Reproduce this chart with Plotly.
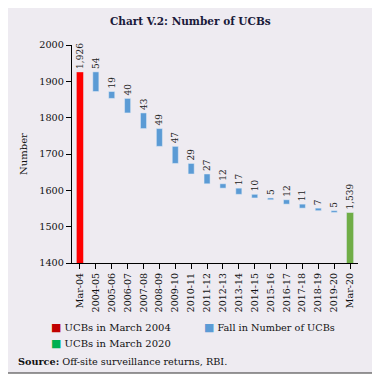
import plotly.graph_objects as go

categories = ["Mar-04", "2004-05", "2005-06", "2006-07", "2007-08", "2008-09", "2009-10",
              "2010-11", "2011-12", "2012-13", "2013-14", "2014-15", "2015-16", "2016-17",
              "2017-18", "2018-19", "2019-20", "Mar-20"]
start_value = 1926
end_value = 1539
falls = [54, 19, 40, 43, 49, 47, 29, 27, 12, 17, 10, 5, 12, 11, 7, 5]

FONT = "DejaVu Serif"
OFF = 8  # browser body margin
W, H = 380 - OFF, 381 - OFF
AX_L, AX_R, AX_T, AX_B = 72, 358, 45, 263
ML, MR, MT, MB = AX_L - OFF, W - (AX_R - OFF), AX_T - OFF, H - (AX_B - OFF)

levels = []
cur = start_value
for f in falls:
    cur -= f
    levels.append(cur)

lbl_font = dict(family=FONT, size=9, color="#222")
fig = go.Figure()
fig.add_trace(go.Bar(
    x=[categories[0]], y=[start_value], marker_color="#ff0000", width=0.45,
    text=[f"{start_value:,}"], textposition="outside", textangle=-90, constraintext="none",
    textfont=lbl_font, cliponaxis=False, name="UCBs in March 2004"))
fig.add_trace(go.Bar(
    x=categories[1:-1], y=falls, base=levels, marker_color="#5b9bd5", width=0.38,
    text=[str(f) for f in falls], textposition="outside", textangle=-90, constraintext="none",
    textfont=lbl_font, cliponaxis=False, name="Fall in Number of UCBs"))
fig.add_trace(go.Bar(
    x=[categories[-1]], y=[end_value], marker_color="#70ad47", width=0.45,
    text=[f"{end_value:,}"], textposition="outside", textangle=-90, constraintext="none",
    textfont=lbl_font, cliponaxis=False, name="UCBs in March 2020"))

pw = AX_R - AX_L
ph = AX_B - AX_T
def px_x(p):
    return (p - AX_L) / pw
def px_y(p):
    return (AX_B - p) / ph

shapes = [dict(type="rect", xref="paper", yref="paper",
               x0=px_x(5.5), x1=px_x(375), y0=px_y(373), y1=px_y(5.5),
               fillcolor="#eeebf1", line=dict(color="#333", width=1.2), layer="below")]

def sq(c):
    return f'<span style="color:{c};font-size:11px">■</span>'

annotations = [
    dict(text="<b>Chart V.2: Number of UCBs</b>", xref="paper", yref="paper",
         x=px_x(190), y=px_y(21), showarrow=False, font=dict(family=FONT, size=10.5, color="#1a1a3a"),
         xanchor="center", yanchor="middle"),
    dict(text=sq("#c00000") + " UCBs in March 2004", xref="paper", yref="paper",
         x=px_x(49), y=px_y(327), showarrow=False, font=dict(family=FONT, size=10, color="#111"),
         xanchor="left", yanchor="middle"),
    dict(text=sq("#5b9bd5") + " Fall in Number of UCBs", xref="paper", yref="paper",
         x=px_x(202), y=px_y(327), showarrow=False, font=dict(family=FONT, size=9.7, color="#111"),
         xanchor="left", yanchor="middle"),
    dict(text=sq("#00b050") + " UCBs in March 2020", xref="paper", yref="paper",
         x=px_x(49), y=px_y(343), showarrow=False, font=dict(family=FONT, size=10, color="#111"),
         xanchor="left", yanchor="middle"),
    dict(text="<b>Source:</b> Off-site surveillance returns, RBI.", xref="paper", yref="paper",
         x=px_x(16), y=px_y(361), showarrow=False, font=dict(family=FONT, size=9.7, color="#111"),
         xanchor="left", yanchor="middle"),
]

fig.update_layout(
    width=W, height=H, margin=dict(l=ML, r=MR, t=MT, b=MB, pad=0),
    paper_bgcolor="white", plot_bgcolor="rgba(0,0,0,0)",
    barmode="overlay", showlegend=False,
    shapes=shapes, annotations=annotations,
    font=dict(family=FONT, color="#111"),
    xaxis=dict(type="category", tickangle=-90, showgrid=False, showline=True,
               linecolor="black", linewidth=1.2, ticks="outside", ticklen=5,
               tickcolor="black", tickfont=dict(family=FONT, size=9.5, color="#111"),
               range=[-0.5, len(categories) - 0.5]),
    yaxis=dict(range=[1400, 2000], dtick=100, showgrid=False, showline=True,
               linecolor="black", linewidth=1.2, ticks="outside", ticklen=5,
               tickcolor="black", tickfont=dict(family=FONT, size=9.7, color="#111"),
               zeroline=False,
               title=dict(text="Number", font=dict(family=FONT, size=10, color="#111"), standoff=9)),
)

fig.write_html("out.html")
